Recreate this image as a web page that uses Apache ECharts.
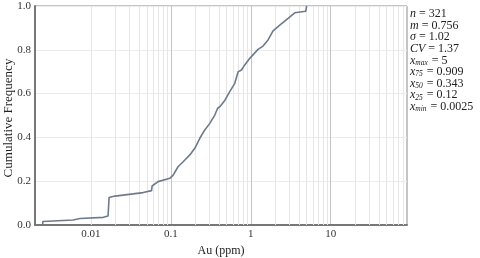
<!DOCTYPE html>
<html>
<head>
<meta charset="utf-8">
<script src="https://cdn.jsdelivr.net/npm/echarts@6/dist/echarts.min.js"></script>
<style>html,body{margin:0;padding:0;background:#fff}#c{width:480px;height:258px}</style>
</head>
<body>
<div id="c"></div>
<script>
// Au concentration (ppm) of the cumulative curve
const auValues = [0.0025, 0.0025, 0.0025, 0.0060, 0.0073, 0.0143, 0.0164, 0.0169, 0.0200, 0.0338, 0.0451, 0.0574, 0.0583, 0.0693, 0.0729, 0.0972, 0.107, 0.123, 0.1426, 0.1728, 0.1995, 0.2304, 0.266, 0.307, 0.355, 0.385, 0.41, 0.473, 0.546, 0.631, 0.693, 0.765, 0.841, 0.972, 1.233, 1.425, 1.645, 1.90, 2.305, 2.93, 3.55, 4.87, 5.0];
// cumulative frequency
const cumFreq = [0.000, 0.003, 0.016, 0.023, 0.030, 0.035, 0.041, 0.126, 0.132, 0.142, 0.148, 0.157, 0.178, 0.198, 0.205, 0.213, 0.228, 0.266, 0.289, 0.320, 0.350, 0.396, 0.434, 0.464, 0.502, 0.533, 0.540, 0.569, 0.609, 0.647, 0.699, 0.708, 0.731, 0.761, 0.802, 0.817, 0.845, 0.886, 0.913, 0.944, 0.969, 0.976, 1.000];
const xMin = 0.002, xMax = 90;
const yTicks = [0, 0.2, 0.4, 0.6, 0.8, 1.0];
const xMajorLabels = ['0.01', '0.1', '1', '10'];
const xMinorTicks = [0.003,0.004,0.005,0.006,0.007,0.008,0.009,
  0.02,0.03,0.04,0.05,0.06,0.07,0.08,0.09,
  0.2,0.3,0.4,0.5,0.6,0.7,0.8,0.9,
  2,3,4,5,6,7,8,9,
  20,30,40,50,60,70,80];
const yAxisTitle = 'Cumulative Frequency';
const xAxisTitle = 'Au (ppm)';
const stats = [
  ['n', '', '321'],
  ['m', '', '0.756'],
  ['σ', '', '1.02'],
  ['CV', '', '1.37'],
  ['x', 'max', '5'],
  ['x', '75', '0.909'],
  ['x', '50', '0.343'],
  ['x', '25', '0.12'],
  ['x', 'min', '0.0025']
];

const chart = echarts.init(document.getElementById('c'), null, {renderer: 'canvas'});
const serif = '"Liberation Serif", "DejaVu Serif", serif';

const statGraphics = stats.map((s, i) => ({
  type: 'text',
  left: 410,
  top: 8 + i * 11.6,
  style: {
    text: '{v|' + s[0] + '}' + (s[1] ? '{s|' + s[1] + '}' : '') + '{e| = ' + s[2] + '}',
    rich: {
      v: {fontFamily: serif, fontStyle: 'italic', fontSize: 12, fill: '#222'},
      s: {fontFamily: serif, fontStyle: 'italic', fontSize: 7.5, fill: '#222', padding: [5, 1, 0, 0]},
      e: {fontFamily: serif, fontSize: 12, fill: '#222'}
    }
  }
}));
statGraphics.push({
  type: 'text',
  x: 9, y: 118, rotation: Math.PI / 2,
  style: {text: yAxisTitle, fontFamily: serif, fontSize: 13, fill: '#222', align: 'center', verticalAlign: 'middle'}
});

chart.setOption({
  animation: false,
  backgroundColor: '#fff',
  grid: {left: 35, right: 73, top: 6, bottom: 33, show: true, borderColor: '#888', borderWidth: 1,
    containLabel: false, outerBoundsMode: 'none'},
  xAxis: {
    type: 'log', logBase: 10, min: xMin, max: xMax,
    name: xAxisTitle, nameLocation: 'middle', nameGap: 18,
    nameTextStyle: {fontFamily: serif, fontSize: 12, color: '#222'},
    axisLine: {show: true, lineStyle: {color: '#777', width: 2}},
    axisTick: {show: false},
    axisLabel: {
      fontFamily: serif, fontSize: 11, color: '#333', margin: 4,
      showMinLabel: false, showMaxLabel: false,
      formatter: v => {
        const e = Math.round(Math.log10(v));
        const s = String(Math.pow(10, e) >= 1 ? Math.pow(10, e) : Number(Math.pow(10, e).toFixed(-e)));
        return xMajorLabels.includes(s) ? s : '';
      }
    },
    splitLine: {show: true, lineStyle: {color: '#c4c4c4', width: 1}}
  },
  yAxis: {
    type: 'value', min: 0, max: 1, interval: 0.2,
    axisLine: {show: true, lineStyle: {color: '#777', width: 2}},
    axisTick: {show: false},
    axisLabel: {fontFamily: serif, fontSize: 11, color: '#333', margin: 4,
      formatter: v => yTicks.some(t => Math.abs(t - v) < 1e-9) ? v.toFixed(1) : ''},
    splitLine: {show: true, lineStyle: {color: '#ececec', width: 1}}
  },
  series: [
    {
      type: 'line', silent: true, data: [],
      markLine: {
        silent: true, symbol: ['none', 'none'], label: {show: false},
        lineStyle: {color: '#e6e6e6', width: 1, type: 'solid'},
        data: xMinorTicks.map(v => ({xAxis: v}))
      },
      z: 1
    },
    {
      type: 'line', showSymbol: false, smooth: false,
      data: auValues.map((v, i) => [v, cumFreq[i]]),
      lineStyle: {color: '#6e7a8c', width: 1.6},
      z: 5
    }
  ],
  graphic: statGraphics
});
</script>
</body>
</html>
